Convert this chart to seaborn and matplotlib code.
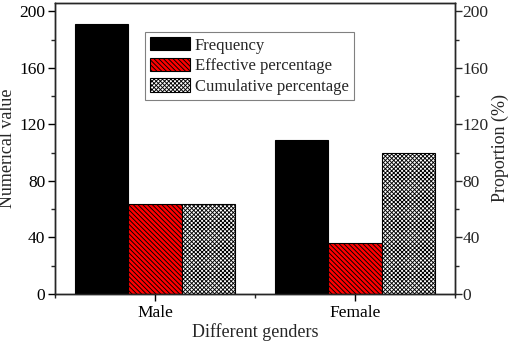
import matplotlib
matplotlib.use("Agg")
import matplotlib.pyplot as plt
import seaborn as sns
import pandas as pd
from matplotlib.patches import Patch
from matplotlib.ticker import MultipleLocator

genders = ["Male", "Female"]
series = ["Frequency", "Effective percentage", "Cumulative percentage"]
frequency = [191, 109]
effective_pct = [63.7, 36.3]
cumulative_pct = [63.7, 100.0]

colors = ["black", "red", "white"]
hatches = [None, "\\" * 7, "x" * 8]

rows = []
for s, vals in zip(series, [frequency, effective_pct, cumulative_pct]):
    for g, v in zip(genders, vals):
        rows.append({"gender": g, "series": s, "value": v})
df = pd.DataFrame(rows)

sns.set_style("ticks")
plt.rcParams["font.family"] = ["Liberation Serif", "DejaVu Serif"]
plt.rcParams["hatch.linewidth"] = 0.65
plt.rcParams["axes.linewidth"] = 1.0

fig = plt.figure(figsize=(5.10, 3.43), dpi=100)
ax = fig.add_axes([55/510, 1-294/343, 400/510, 291/343])

sns.barplot(data=df, x="gender", y="value", hue="series", hue_order=series,
            palette=colors, edgecolor="black", linewidth=0.8, saturation=1,
            width=0.8, ax=ax, legend=False)

for cont, h in zip(ax.containers, hatches):
    for p in cont:
        if h:
            p.set_hatch(h)
        p.set_edgecolor("black")

ax.set_xlim(-0.5, 1.5)
ax.set_ylim(0, 206)
ax.yaxis.set_major_locator(MultipleLocator(40))
ax.yaxis.set_minor_locator(MultipleLocator(20))
ax.xaxis.set_minor_locator(MultipleLocator(0.5))
ax.tick_params(axis="both", which="major", direction="out", length=5, width=1, labelsize=12.5, colors="black")
ax.tick_params(axis="y", which="major", pad=2)
ax.tick_params(axis="x", which="major", pad=3)
ax.tick_params(axis="both", which="minor", direction="out", length=3, width=1)
ax.set_xlabel("Different genders", fontsize=13)
ax.set_ylabel("Numerical value", fontsize=13)
ax.xaxis.set_label_coords(0.5, -0.1)
ax.yaxis.set_label_coords(-0.097, 0.5)
for sp in ax.spines.values():
    sp.set_visible(True)
    sp.set_color("black")

ax2 = ax.twinx()
ax2.set_ylim(0, 206)
ax2.yaxis.set_major_locator(MultipleLocator(40))
ax2.yaxis.set_minor_locator(MultipleLocator(20))
ax2.tick_params(axis="y", which="major", direction="out", length=5, width=1, labelsize=12.5, pad=0.5)
ax2.tick_params(axis="y", which="minor", direction="out", length=3, width=1)
ax2.set_ylabel("Proportion (%)", fontsize=13)
ax2.yaxis.set_label_coords(1.092, 0.5)

handles = [Patch(facecolor=c, edgecolor="black", hatch=h, linewidth=0.8) for c, h in zip(colors, hatches)]
leg = ax.legend(handles, series, loc="upper left", bbox_to_anchor=(0.225, 0.9),
                borderaxespad=0, fancybox=False, edgecolor="gray", framealpha=1,
                fontsize=12, handlelength=2.4, handleheight=0.85,
                handletextpad=0.3, labelspacing=0.25, borderpad=0.3)
leg.get_frame().set_linewidth(0.8)

fig.savefig("out.png", dpi=100)
